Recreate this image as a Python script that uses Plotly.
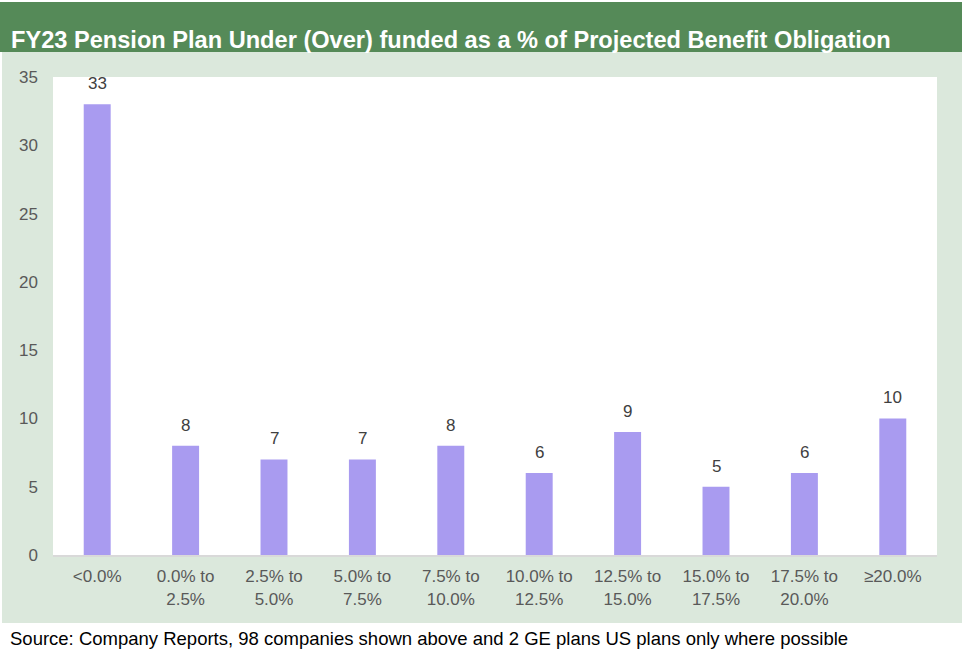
import plotly.graph_objects as go

categories = ["<0.0%", "0.0% to<br>2.5%", "2.5% to<br>5.0%", "5.0% to<br>7.5%", "7.5% to<br>10.0%",
              "10.0% to<br>12.5%", "12.5% to<br>15.0%", "15.0% to<br>17.5%", "17.5% to<br>20.0%", "≥20.0%"]
counts = [33, 8, 7, 7, 8, 6, 9, 5, 6, 10]
y_ticks = [0, 5, 10, 15, 20, 25, 30, 35]

title_text = "FY23 Pension Plan Under (Over) funded as a % of Projected Benefit Obligation"
source_text = "Source: Company Reports, 98 companies shown above and 2 GE plans US plans only where possible"

W, H = 964, 658
L, R, T, B = 53, 937, 77, 555
pw, ph = R - L, B - T

def px(x):
    return (x - L) / pw

def py(y):
    return (B - y) / ph

FONT = "Liberation Sans, Arial"

fig = go.Figure()
fig.add_trace(go.Bar(x=categories, y=counts, marker=dict(color="#a99bf0", line=dict(width=0)),
                     width=0.305, hoverinfo="skip"))

for c, v in zip(categories, counts):
    fig.add_annotation(x=c, y=v, text=str(v), showarrow=False, yanchor="bottom", yshift=9,
                       font=dict(family=FONT, size=17, color="#404040"))

shapes = [
    dict(type="rect", xref="paper", yref="paper", x0=px(0), x1=px(962), y0=py(52), y1=py(2),
         fillcolor="#558a58", line=dict(width=0), layer="below"),
    dict(type="rect", xref="paper", yref="paper", x0=px(2), x1=px(962), y0=py(623), y1=py(52),
         fillcolor="#dbe8dc", line=dict(width=0), layer="below"),
    dict(type="rect", xref="paper", yref="paper", x0=0, x1=1, y0=0, y1=1,
         fillcolor="#ffffff", line=dict(width=0), layer="below"),
]

fig.add_annotation(xref="paper", yref="paper", x=px(9), y=py(40), xanchor="left", yanchor="middle",
                   text="<b>" + title_text + "</b>", showarrow=False,
                   font=dict(family=FONT, size=23.6, color="#ffffff"))
fig.add_annotation(xref="paper", yref="paper", x=px(8), y=py(638), xanchor="left", yanchor="middle",
                   text=source_text, showarrow=False,
                   font=dict(family=FONT, size=18.5, color="#000000"))

fig.update_layout(
    width=W, height=H,
    margin=dict(l=L, r=W - R, t=T, b=H - B, pad=0),
    paper_bgcolor="#ffffff", plot_bgcolor="#ffffff",
    shapes=shapes, showlegend=False,
    font=dict(family=FONT, size=17, color="#595959"),
)
fig.update_xaxes(showline=True, linecolor="#d9d9d9", linewidth=2, ticks="", showgrid=False,
                 tickfont=dict(size=17, color="#595959"), ticklabelstandoff=5, fixedrange=True)
fig.update_yaxes(range=[0, 35], tickvals=y_ticks, showgrid=False, zeroline=False, showline=False,
                 ticks="", tickfont=dict(size=17, color="#595959"), ticklabelstandoff=14, fixedrange=True)

fig.write_html("out.html", config={"displayModeBar": False},
               post_script="document.body.style.margin='0';document.body.style.padding='0';")
